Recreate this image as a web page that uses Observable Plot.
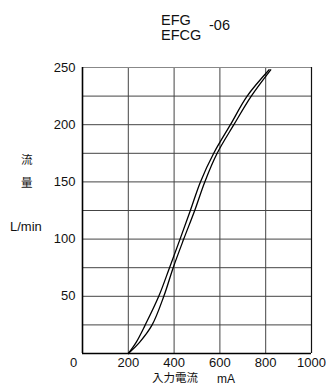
<!DOCTYPE html>
<html>
<head>
<meta charset="utf-8">
<script src="https://cdn.jsdelivr.net/npm/d3@7"></script>
<script src="https://cdn.jsdelivr.net/npm/@observablehq/plot@0.6"></script>
<style>
  html, body { margin: 0; padding: 0; background: #fff; }
  body { font-family: "Liberation Sans", Arial, sans-serif; color: #111; }
  #wrap { position: relative; width: 326px; height: 390px; overflow: hidden; }
  #title { position: relative; width: 326px; height: 50px; }
  .t { position: absolute; line-height: 1; white-space: pre; }
  .cjk { font-family: "Noto Sans CJK JP", "Noto Sans CJK SC", sans-serif; }
</style>
</head>
<body>
<div id="wrap">
  <div id="title">
    <div class="t" style="left:161px;top:13px;font-size:14.5px;">EFG</div>
    <div class="t" style="left:161px;top:28px;font-size:14.5px;">EFCG</div>
    <div class="t" style="left:209px;top:18px;font-size:14.5px;">-06</div>
  </div>
  <div id="chart"></div>
  <div class="t cjk" style="left:21px;top:154px;font-size:11.5px;">流</div>
  <div class="t cjk" style="left:21px;top:177px;font-size:11.5px;">量</div>
  <div class="t" style="left:10px;top:220px;font-size:13px;">L/min</div>
  <div class="t cjk" style="left:152px;top:372px;font-size:11.5px;">入力電流</div>
  <div class="t" style="left:217px;top:373px;font-size:12px;">mA</div>
</div>
<script>
// Flow levels (L/min) at which the two hysteresis branches were read
const flow = [0, 10, 25, 50, 75, 100, 125, 150, 175, 200, 225, 248];
// Increasing-current branch (right curve), mA
const currentRising = [200, 250, 304, 355, 396, 442, 490, 534, 588, 661, 737, 822];
// Decreasing-current branch (left curve), mA
const currentFalling = [200, 235, 274, 333, 380, 426, 471, 515, 573, 646, 719, 815];

const xTicks = [0, 200, 400, 600, 800, 1000];
const yTicks = [50, 100, 150, 200, 250];
const xGrid = [200, 400, 600, 800];
const yGrid = [25, 50, 75, 100, 125, 150, 175, 200, 225];

const rising = flow.map((f, i) => ({flow: f, current: currentRising[i]}));
const falling = flow.map((f, i) => ({flow: f, current: currentFalling[i]}));

const chart = Plot.plot({
  width: 326,
  height: 340,
  marginTop: 17,
  marginBottom: 37,
  marginLeft: 82,
  marginRight: 15,
  x: {domain: [0, 1000]},
  y: {domain: [0, 250]},
  style: {fontFamily: "'Liberation Sans', Arial, sans-serif", fontSize: "13px", color: "#111", background: "white", overflow: "visible"},
  marks: [
    Plot.ruleY(yGrid, {stroke: "#444", strokeWidth: 1}),
    Plot.ruleX(xGrid, {stroke: "#444", strokeWidth: 1}),
    Plot.ruleY([250], {stroke: "#888", strokeWidth: 1.2}),
    Plot.ruleX([1000], {stroke: "#111", strokeWidth: 1.2}),
    Plot.ruleY([0], {stroke: "#000", strokeWidth: 1.6}),
    Plot.ruleX([0], {stroke: "#000", strokeWidth: 1.6}),
    Plot.line(rising, {x: "current", y: "flow", curve: "catmull-rom", stroke: "#000", strokeWidth: 1.3}),
    Plot.line(falling, {x: "current", y: "flow", curve: "catmull-rom", stroke: "#000", strokeWidth: 1.3}),
    Plot.axisY(yTicks, {tickSize: 0, tickPadding: 7, label: null, tickFormat: d => String(d)}),
    Plot.axisX(xTicks.filter(d => d > 0), {tickSize: 0, tickPadding: 4, label: null, tickFormat: d => String(d)}),
    Plot.axisX(xTicks.filter(d => d === 0), {tickSize: 0, tickPadding: 4, dx: -9, label: null, tickFormat: d => String(d)})
  ]
});
document.getElementById("chart").appendChild(chart);
</script>
</body>
</html>
